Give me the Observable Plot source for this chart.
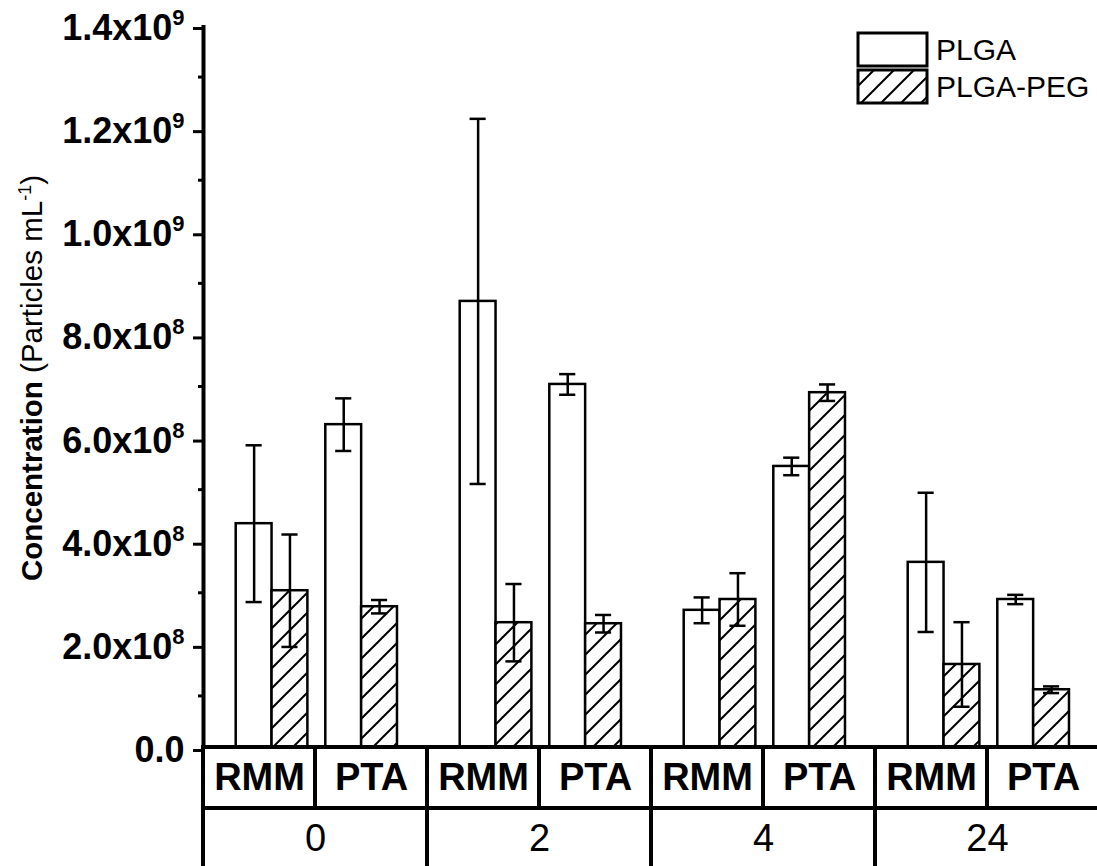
<!DOCTYPE html>
<html>
<head>
<meta charset="utf-8">
<script src="https://cdn.jsdelivr.net/npm/d3@7"></script>
<script src="https://cdn.jsdelivr.net/npm/@observablehq/plot@0.6"></script>
<style>
  html, body { margin: 0; padding: 0; background: #fff; }
  #wrap { position: relative; width: 1097px; height: 866px; overflow: hidden; font-family: "Liberation Sans", Arial, sans-serif; }
  #main, #table { position: absolute; left: 0; }
  #main { top: 0; }
  #table { top: 745px; }
  #legend { position: absolute; left: 856px; top: 31px; }
  #legend .row { display: flex; align-items: center; height: 37px; }
  #legend svg { display: block; }
  #legend span { font-size: 30px; color: #000; margin-left: 7px; line-height: 1; }
</style>
</head>
<body>
<svg width="0" height="0" style="position:absolute">
  <defs>
    <pattern id="hatch" patternUnits="userSpaceOnUse" width="20" height="20">
      <rect width="20" height="20" fill="white"></rect>
      <path d="M-5,5 L5,-5 M0,20 L20,0 M15,25 L25,15" stroke="black" stroke-width="2"></path>
    </pattern>
  </defs>
</svg>
<div id="wrap">
  <div id="main"></div>
  <div id="table"></div>
  <div id="legend">
    <div class="row">
      <svg width="73" height="37"><rect x="2" y="2" width="69" height="33" fill="white" stroke="black" stroke-width="3"></rect></svg>
      <span>PLGA</span>
    </div>
    <div class="row">
      <svg width="73" height="37"><rect x="2" y="2" width="69" height="33" fill="url(#hatch)" stroke="black" stroke-width="3"></rect></svg>
      <span>PLGA-PEG</span>
    </div>
  </div>
</div>
<script>
// ---- data ----
const times = ["0", "2", "4", "24"];
const methods = ["RMM", "PTA"];
const series = ["PLGA", "PLGA-PEG"];
// order: 0 RMM, 0 PTA, 2 RMM, 2 PTA, 4 RMM, 4 PTA, 24 RMM, 24 PTA
const plgaMean = [4.34e8, 6.26e8, 8.65e8, 7.04e8, 2.66e8, 5.45e8, 3.59e8, 2.87e8];
const plgaErr  = [1.52e8, 0.51e8, 3.54e8, 0.20e8, 0.25e8, 0.17e8, 1.35e8, 0.09e8];
const pegMean  = [3.04e8, 2.73e8, 2.42e8, 2.40e8, 2.87e8, 6.88e8, 1.61e8, 1.12e8];
const pegErr   = [1.09e8, 0.13e8, 0.75e8, 0.17e8, 0.51e8, 0.16e8, 0.82e8, 0.065e8];
const majorTicks = [0, 2e8, 4e8, 6e8, 8e8, 10e8, 12e8, 14e8];
const minorTicks = [1e8, 3e8, 5e8, 7e8, 9e8, 11e8, 13e8];

// ---- layout in x units (each time group spans 5 units) ----
const BAR = 0.8, CAP = 0.18;
const rows = [];
times.forEach((t, g) => methods.forEach((m, mi) => {
  const i = g * 2 + mi;
  series.forEach((s, si) => {
    const mean = si ? pegMean[i] : plgaMean[i];
    const err = si ? pegErr[i] : plgaErr[i];
    const c = g * 5 + mi * 2 + 1.53;
    const x1 = c - BAR + si * BAR;
    rows.push({time: t, method: m, series: s, mean, err, x1, x2: x1 + BAR, xc: x1 + BAR / 2});
  });
}));

const fmt = v => {
  if (v === 0) return "0.0";
  const e = Math.floor(Math.log10(v) + 1e-9);
  return (v / Math.pow(10, e)).toFixed(1) + "x10^" + e;
};

const font = "Liberation Sans, Arial, sans-serif";
const main = Plot.plot({
  width: 1097, height: 749,
  marginLeft: 203, marginRight: 0, marginTop: 25, marginBottom: 2,
  style: {fontFamily: font, background: "white", overflow: "visible", color: "black"},
  x: {domain: [0, 20], range: [203, 1099], axis: null},
  y: {domain: [0, 1.4e9], range: [747, 25], axis: null},
  marks: [
    Plot.rect(rows.filter(d => d.series === "PLGA"), {x1: "x1", x2: "x2", y1: 0, y2: "mean", fill: "white", stroke: "black", strokeWidth: 2.5}),
    Plot.rect(rows.filter(d => d.series !== "PLGA"), {x1: "x1", x2: "x2", y1: 0, y2: "mean", fill: "url(#hatch)", stroke: "black", strokeWidth: 2.5}),
    Plot.ruleX(rows, {x: "xc", y1: d => d.mean - d.err, y2: d => d.mean + d.err, stroke: "black", strokeWidth: 2.5}),
    Plot.ruleY(rows, {y: d => d.mean + d.err, x1: d => d.xc - CAP, x2: d => d.xc + CAP, stroke: "black", strokeWidth: 2.5}),
    Plot.ruleY(rows, {y: d => d.mean - d.err, x1: d => d.xc - CAP, x2: d => d.xc + CAP, stroke: "black", strokeWidth: 2.5}),
    Plot.axisY(minorTicks, {tickSize: 5, strokeWidth: 3, tickFormat: () => "", label: null}),
    Plot.axisY(majorTicks, {tickSize: 10, strokeWidth: 3, tickPadding: 9, tickFormat: fmt, fontSize: 36, fontWeight: "bold", label: null, dy: 3}),
    Plot.ruleX([0], {stroke: "black", strokeWidth: 4}),
    Plot.ruleY([0], {stroke: "black", strokeWidth: 4})
  ]
});
document.getElementById("main").appendChild(main);

// superscript exponents on tick labels
d3.select(main).selectAll("text").each(function() {
  const s = this.textContent;
  if (s.includes("^")) {
    const [base, ex] = s.split("^");
    const t = d3.select(this);
    t.text(base);
    t.append("tspan").attr("font-size", 22).attr("dy", -15).text(ex);
  }
});

// y-axis title
const lab = d3.select(main).append("text")
  .attr("transform", "translate(42,378) rotate(-90)")
  .attr("text-anchor", "middle")
  .attr("font-size", 29.5)
  .attr("font-family", font)
  .attr("fill", "black");
lab.append("tspan").attr("font-weight", "bold").text("Concentration");
lab.append("tspan").text(" (Particles mL");
lab.append("tspan").attr("font-size", 18).attr("dy", -11).text("-1");
lab.append("tspan").attr("dy", 11).text(")");

// ---- category table under the x axis ----
const cells = [];
times.forEach((t, g) => {
  methods.forEach((m, mi) => cells.push({row: "method", label: m, x1: g * 5 + mi * 2.5, x2: g * 5 + mi * 2.5 + 2.5}));
  cells.push({row: "time", label: t, x1: g * 5, x2: g * 5 + 5});
});
const table = Plot.plot({
  width: 1097, height: 126,
  marginLeft: 203, marginRight: 0, marginTop: 2, marginBottom: 0,
  style: {fontFamily: font, background: "transparent", overflow: "visible", color: "black"},
  x: {domain: [0, 20], range: [203, 1099], axis: null},
  y: {domain: ["method", "time"], range: [2, 124], padding: 0, axis: null},
  marks: [
    Plot.barX(cells, {x1: "x1", x2: "x2", y: "row", fill: "white", stroke: "black", strokeWidth: 4}),
    Plot.text(cells.filter(d => d.row === "method"), {x: d => (d.x1 + d.x2) / 2, y: "row", text: "label", fontSize: 38, fontWeight: "bold", fill: "black"}),
    Plot.text(cells.filter(d => d.row === "time"), {x: d => (d.x1 + d.x2) / 2, y: "row", text: "label", fontSize: 38, fill: "black"})
  ]
});
document.getElementById("table").appendChild(table);
</script>
</body>
</html>
